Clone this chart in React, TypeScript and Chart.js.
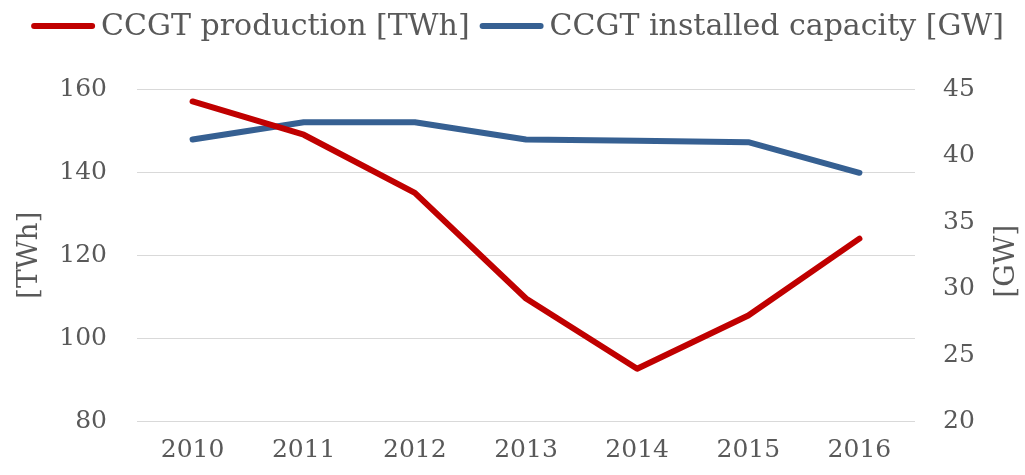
import React, { useEffect, useRef } from "react";
import { Chart, registerables } from "chart.js";

Chart.register(...registerables);

const categories = ["2010", "2011", "2012", "2013", "2014", "2015", "2016"];
const productionTWh = [157, 149, 135, 109.6, 92.7, 105.5, 124];
const capacityGW = [41.2, 42.5, 42.5, 41.2, 41.1, 41.0, 38.7];
const seriesLabels = ["CCGT production [TWh]", "CCGT installed capacity [GW]"];
const leftTitle = "[TWh]";
const rightTitle = "[GW]";

const FONT = '"DejaVu Serif", serif';
const TEXT = "#595959";
const RED = "#C00000";
const BLUE = "#366092";

const overlayPlugin = {
  id: "overlay",
  afterDraw(chart: any) {
    const ctx = chart.ctx as CanvasRenderingContext2D;
    const { top, bottom } = chart.chartArea;
    const midY = (top + bottom) / 2;
    ctx.save();
    ctx.fillStyle = TEXT;
    ctx.font = `28px ${FONT}`;
    ctx.textAlign = "center";
    ctx.textBaseline = "middle";
    ctx.save();
    ctx.translate(30, midY);
    ctx.rotate(-Math.PI / 2);
    ctx.fillText(leftTitle, 0, 0);
    ctx.restore();
    ctx.save();
    ctx.translate(chart.width - 18, midY + 6);
    ctx.rotate(-Math.PI / 2);
    ctx.fillText(rightTitle, 0, 0);
    ctx.restore();

    // legend
    ctx.font = `30px ${FONT}`;
    ctx.textAlign = "left";
    ctx.textBaseline = "alphabetic";
    const sample = 64;
    const gap = 6;
    const itemGap = 10;
    const ds = chart.data.datasets;
    const widths = ds.map((d: any) => sample + gap + ctx.measureText(d.label).width);
    const total = widths.reduce((a: number, b: number) => a + b, 0) + itemGap * (ds.length - 1);
    let x = chart.width / 2 + 5 - total / 2;
    ds.forEach((d: any, i: number) => {
      ctx.strokeStyle = d.borderColor;
      ctx.lineWidth = 6;
      ctx.lineCap = "round";
      ctx.beginPath();
      ctx.moveTo(x + 3, 26);
      ctx.lineTo(x + sample - 3, 26);
      ctx.stroke();
      ctx.fillStyle = TEXT;
      ctx.fillText(d.label, x + sample + gap, 35);
      x += widths[i] + itemGap;
    });
    ctx.restore();
  },
};

export default function App() {
  const ref = useRef<HTMLCanvasElement | null>(null);
  useEffect(() => {
    document.body.style.margin = "0";
    const chart = new Chart(ref.current as HTMLCanvasElement, {
      type: "line",
      data: {
        labels: categories,
        datasets: [
          {
            label: seriesLabels[0],
            data: productionTWh,
            borderColor: RED,
            backgroundColor: RED,
            borderWidth: 6,
            pointRadius: 0,
            borderCapStyle: "round",
            borderJoinStyle: "round",
            yAxisID: "y",
            tension: 0,
          },
          {
            label: seriesLabels[1],
            data: capacityGW,
            borderColor: BLUE,
            backgroundColor: BLUE,
            borderWidth: 6,
            pointRadius: 0,
            borderCapStyle: "round",
            borderJoinStyle: "round",
            yAxisID: "y1",
            tension: 0,
          },
        ],
      },
      options: {
        animation: false,
        responsive: true,
        maintainAspectRatio: false,
        layout: { padding: { top: 89, left: 0, right: 0, bottom: 0 } },
        plugins: {
          legend: { display: false },
          tooltip: { enabled: false },
          title: { display: false },
        },
        scales: {
          x: {
            offset: true,
            grid: { display: false, drawTicks: false },
            border: { display: false },
            ticks: { color: TEXT, font: { family: FONT, size: 25 }, padding: 14, maxRotation: 0 },
            afterFit(scale: any) {
              scale.height = 53.5;
            },
          },
          y: {
            position: "left",
            min: 80,
            max: 160,
            grid: { color: "#d9d9d9", lineWidth: 1, drawTicks: false },
            border: { display: false },
            ticks: { stepSize: 20, color: TEXT, font: { family: FONT, size: 25 }, padding: 30 },
            afterFit(scale: any) {
              scale.width = 137;
            },
          },
          y1: {
            position: "right",
            min: 20,
            max: 45,
            grid: { display: false, drawTicks: false },
            border: { display: false },
            ticks: { stepSize: 5, color: TEXT, font: { family: FONT, size: 25 }, padding: 28 },
            afterFit(scale: any) {
              scale.width = 110;
            },
          },
        },
      },
      plugins: [overlayPlugin],
    });
    return () => chart.destroy();
  }, []);
  return (
    <div style={{ width: "1025px", height: "475px", position: "relative" }}>
      <canvas ref={ref} />
    </div>
  );
}
